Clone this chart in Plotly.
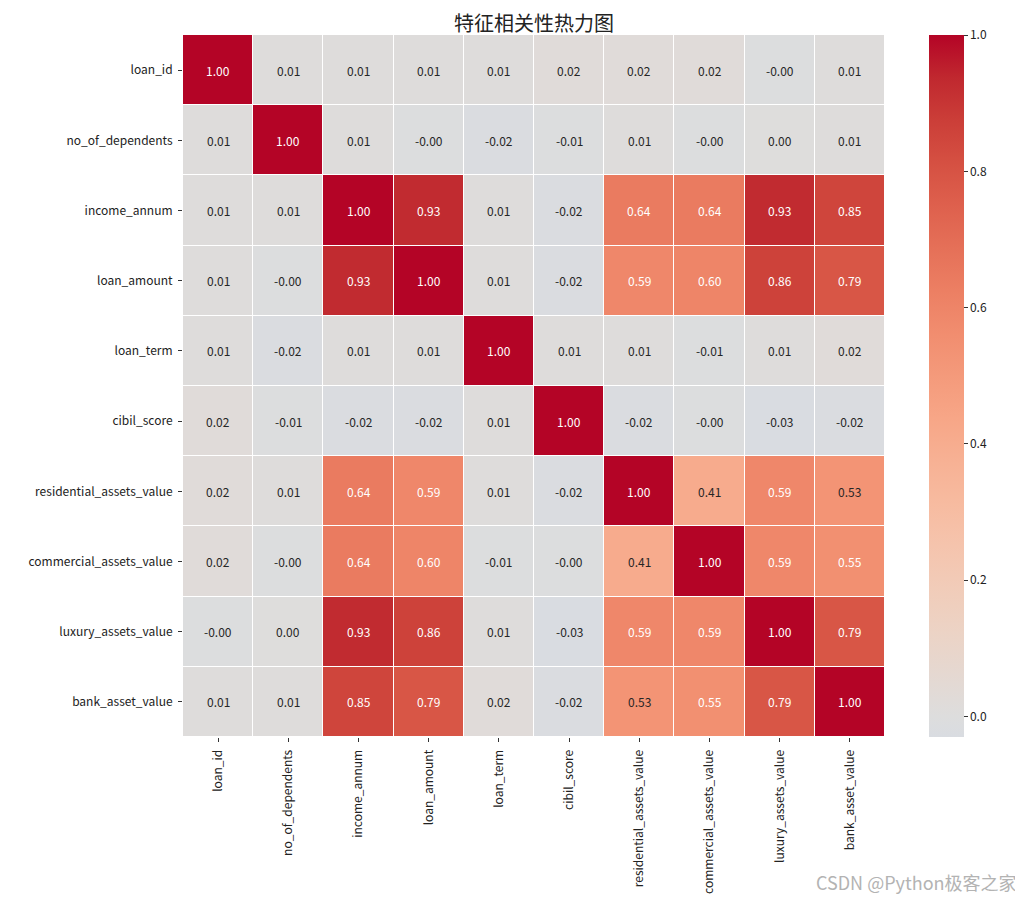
import plotly.graph_objects as go

labels = ["loan_id", "no_of_dependents", "income_annum", "loan_amount", "loan_term",
          "cibil_score", "residential_assets_value", "commercial_assets_value",
          "luxury_assets_value", "bank_asset_value"]

row_loan_id = [1.00, 0.01, 0.01, 0.01, 0.01, 0.02, 0.02, 0.02, -0.004, 0.01]
row_dependents = [0.01, 1.00, 0.01, -0.004, -0.02, -0.01, 0.01, -0.004, 0.004, 0.01]
row_income = [0.01, 0.01, 1.00, 0.93, 0.01, -0.02, 0.64, 0.64, 0.93, 0.85]
row_loan_amount = [0.01, -0.004, 0.93, 1.00, 0.01, -0.02, 0.59, 0.60, 0.86, 0.79]
row_loan_term = [0.01, -0.02, 0.01, 0.01, 1.00, 0.01, 0.01, -0.01, 0.01, 0.02]
row_cibil = [0.02, -0.01, -0.02, -0.02, 0.01, 1.00, -0.02, -0.004, -0.03, -0.02]
row_residential = [0.02, 0.01, 0.64, 0.59, 0.01, -0.02, 1.00, 0.41, 0.59, 0.53]
row_commercial = [0.02, -0.004, 0.64, 0.60, -0.01, -0.004, 0.41, 1.00, 0.59, 0.55]
row_luxury = [-0.004, 0.004, 0.93, 0.86, 0.01, -0.03, 0.59, 0.59, 1.00, 0.79]
row_bank = [0.01, 0.01, 0.85, 0.79, 0.02, -0.02, 0.53, 0.55, 0.79, 1.00]

z = [row_loan_id, row_dependents, row_income, row_loan_amount, row_loan_term,
     row_cibil, row_residential, row_commercial, row_luxury, row_bank]

# matplotlib "coolwarm" (Moreland) table
cw = [
    (0.4375, 0.798691636, 0.849786142, 0.931688648),
    (0.46875, 0.833466556, 0.860207984, 0.901068838),
    (0.5, 0.865395197, 0.86541021, 0.865395561),
    (0.53125, 0.897787179, 0.848937047, 0.820880546),
    (0.5625, 0.924127593, 0.827384882, 0.774508472),
    (0.59375, 0.944468518, 0.800927443, 0.726736146),
    (0.625, 0.958852946, 0.769767752, 0.678007945),
    (0.65625, 0.96732803, 0.734132809, 0.628751763),
    (0.6875, 0.969954137, 0.694266682, 0.579375448),
    (0.71875, 0.966811177, 0.650421156, 0.530263762),
    (0.75, 0.958003065, 0.602842431, 0.481775914),
    (0.78125, 0.943660866, 0.551750968, 0.434243684),
    (0.8125, 0.923944917, 0.49730856, 0.387970225),
    (0.84375, 0.89904617, 0.439559467, 0.343229596),
    (0.875, 0.869186849, 0.378313092, 0.300267182),
    (0.90625, 0.834620542, 0.312874446, 0.259301199),
    (0.9375, 0.795631745, 0.24128379, 0.220525627),
    (0.96875, 0.752534934, 0.157246067, 0.184115123),
    (1.0, 0.705673158, 0.01555616, 0.150232812),
]


def cw_at(t):
    for i in range(len(cw) - 1):
        a, b = cw[i], cw[i + 1]
        if a[0] <= t <= b[0]:
            f = (t - a[0]) / (b[0] - a[0])
            return tuple(a[k] + f * (b[k] - a[k]) for k in (1, 2, 3))
    return cw[-1][1:]


zmin = min(min(r) for r in z)
zmax = 1.0
# seaborn center=0: colormap spans -1..1
colorscale = []
pts = [zmin] + [2 * p[0] - 1 for p in cw if 2 * p[0] - 1 > zmin]
for v in pts:
    r, g, b = cw_at((v + 1) / 2)
    colorscale.append([(v - zmin) / (zmax - zmin),
                       f"rgb({r*255:.0f},{g*255:.0f},{b*255:.0f})"])


def lum(rgb):
    def c(x):
        return x / 12.92 if x <= 0.03928 else ((x + 0.055) / 1.055) ** 2.4
    r, g, b = (c(x) for x in rgb)
    return 0.2126 * r + 0.7152 * g + 0.0722 * b


# page is drawn with an 8px body offset; compensate
OFF = 8
L, T, R, B = 183 - OFF, 35 - OFF, 885 - OFF, 737 - OFF
W, H = 1023, 900
PW = R - L
PH = B - T

font = "Noto Sans CJK SC, Microsoft YaHei, sans-serif"
fig = go.Figure()
fig.add_trace(go.Heatmap(
    z=z, x=labels, y=labels, zmin=zmin, zmax=zmax,
    colorscale=colorscale, xgap=1, ygap=1, hoverongaps=False,
    colorbar=dict(x=(929 - OFF - L) / PW, xanchor="left", xref="paper", xpad=0,
                  y=0.5, yanchor="middle", len=1.0, lenmode="fraction", ypad=0,
                  thickness=35, outlinewidth=0, tick0=0, dtick=0.2,
                  tickformat=".1f", ticks="outside", ticklen=4,
                  tickcolor="#333", tickfont=dict(family=font, size=12, color="#222")),
))

annotations = []
for i, row in enumerate(z):
    for j, v in enumerate(row):
        col = cw_at((v + 1) / 2)
        tc = "white" if lum(col) < 0.408 else "#262626"
        annotations.append(dict(x=labels[j], y=labels[i], text=f"{v:.2f}",
                                showarrow=False, font=dict(family=font, size=12, color=tc)))

annotations.append(dict(text="CSDN @Python极客之家", xref="paper", yref="paper",
                        x=(1019 - OFF - L) / PW, y=(B - (882 - OFF)) / PH,
                        xanchor="right", yanchor="middle", showarrow=False,
                        font=dict(family=font, size=18, color="#b3b3b3")))

fig.update_layout(
    width=W, height=H,
    margin=dict(l=L, r=W - R, t=T, b=H - B),
    paper_bgcolor="white", plot_bgcolor="white",
    title=dict(text="特征相关性热力图", x=(534 - OFF) / W, xanchor="center",
               y=1 - (24 - OFF) / H, yanchor="middle",
               font=dict(family=font, size=20, color="#222")),
    font=dict(family=font, size=12, color="#222"),
    annotations=annotations,
)
fig.update_xaxes(tickangle=-90, ticks="outside", ticklen=4, tickcolor="#333",
                 ticklabelstandoff=3,
                 showgrid=False, zeroline=False, showline=False,
                 tickfont=dict(family=font, size=12, color="#222"))
fig.update_yaxes(autorange="reversed", ticks="outside", ticklen=4, tickcolor="#333",
                 ticklabelstandoff=3,
                 showgrid=False, zeroline=False, showline=False,
                 tickfont=dict(family=font, size=12, color="#222"))

fig.write_html("out.html")
